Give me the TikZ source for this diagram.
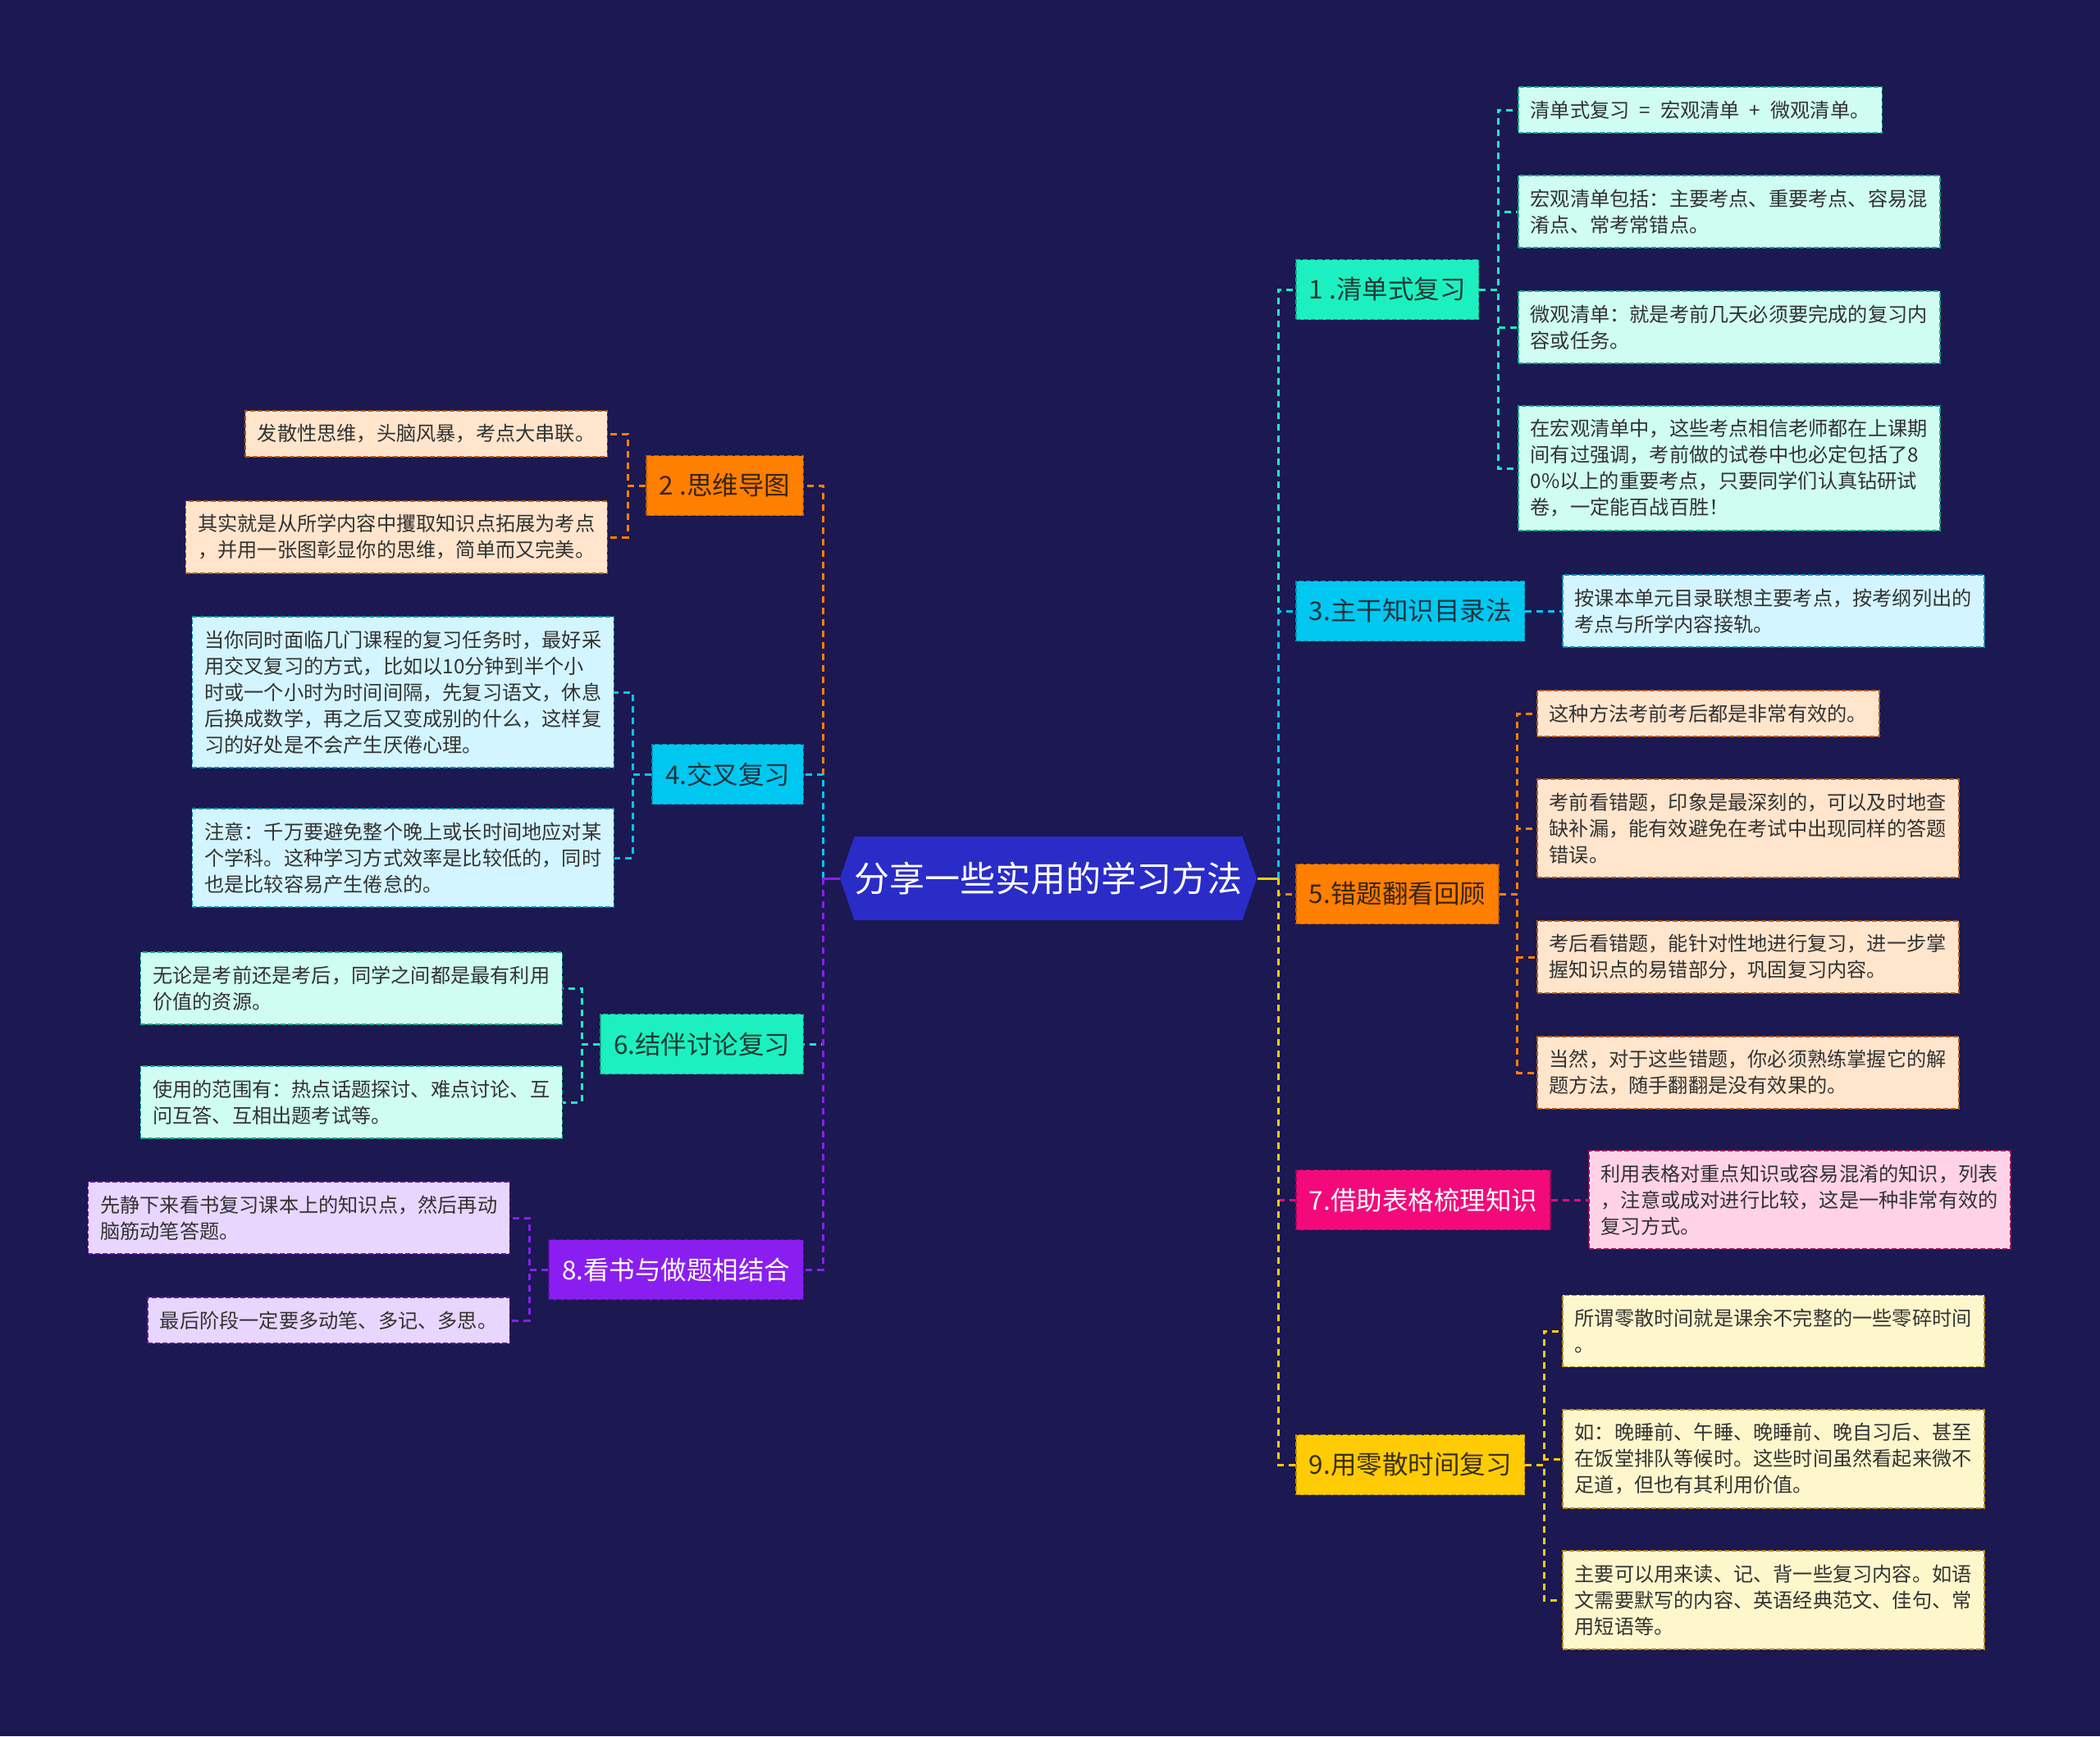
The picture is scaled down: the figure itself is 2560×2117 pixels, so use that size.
\documentclass[tikz,border=0pt]{standalone}
\usepackage{fontspec}
\setmainfont{Noto Sans CJK SC}
\usetikzlibrary{shapes.symbols}

\definecolor{bgnavy}{HTML}{1B1852}
\definecolor{rootblue}{HTML}{2A2CC8}
\definecolor{leaftext}{HTML}{333333}
\definecolor{mintM}{HTML}{1CF0C0}
\definecolor{mintL}{HTML}{CFFDF1}
\definecolor{mintD}{HTML}{14A886}
\definecolor{mintT}{HTML}{1F3A36}
\definecolor{cyanM}{HTML}{00C8F0}
\definecolor{cyanL}{HTML}{D3F5FF}
\definecolor{cyanD}{HTML}{0090B0}
\definecolor{cyanT}{HTML}{1D3440}
\definecolor{orangeM}{HTML}{FF7F00}
\definecolor{orangeL}{HTML}{FFE5CC}
\definecolor{orangeD}{HTML}{B85A00}
\definecolor{orangeT}{HTML}{3A2410}
\definecolor{pinkM}{HTML}{F3097A}
\definecolor{pinkL}{HTML}{FFD2E8}
\definecolor{pinkD}{HTML}{A80552}
\definecolor{pinkT}{HTML}{FFFFFF}
\definecolor{yellowM}{HTML}{FFCB05}
\definecolor{yellowL}{HTML}{FFF7CC}
\definecolor{yellowD}{HTML}{B89000}
\definecolor{yellowT}{HTML}{3A3010}
\definecolor{purpleM}{HTML}{8A1EF0}
\definecolor{purpleL}{HTML}{E8D6FF}
\definecolor{purpleD}{HTML}{5E10A8}
\definecolor{purpleT}{HTML}{FFFFFF}

\begin{document}
\begin{tikzpicture}
  [x=0.5pt,y=-0.5pt,
   every node/.style={inner sep=0pt},
   topic/.style={rectangle, fill=#1M, draw=#1D, text=#1T, line width=0.75pt,
     dash pattern=on 3pt off 1.5pt, minimum height=36.5pt, inner xsep=8pt,
     font=\fontsize{15.75pt}{18pt}\selectfont},
   leaf/.style={rectangle, fill=#1L, draw=#1D, text=leaftext, line width=0.75pt,
     dash pattern=on 3pt off 1.5pt, align=left, inner xsep=7.5pt, inner ysep=8.3pt,
     font=\fontsize{12.1pt}{16pt}\selectfont},
   link/.style={draw=#1M, line width=1.5pt, dash pattern=on 4pt off 3pt},
   elbow/.style={to path={-- ++(#1,0) |- (\tikztotarget)}},
   fork/.style={to path={|- (\tikztotarget)}}]

  \fill[bgnavy] (0,0) rectangle (2560,2117);
  \useasboundingbox (0,0) rectangle (2560,2117);

  % centre
  \node[shape=signal, signal to=west and east, signal pointer angle=142,
    fill=rootblue, text=white, minimum width=234pt, minimum height=51pt,
    font=\fontsize{21.5pt}{24pt}\selectfont] (root) at (1278,1071) {分享一些实用的学习方法};
  \coordinate (rtrunk) at (1558,1071);
  \coordinate (ltrunk) at (1003,1071);

  % right topics
  \node[topic=mint, anchor=west] (t1) at (1579,353) {1 .清单式复习};
  \node[topic=cyan, anchor=west] (t3) at (1579,745) {3.主干知识目录法};
  \node[topic=orange, anchor=west] (t5) at (1579,1090) {5.错题翻看回顾};
  \node[topic=pink, anchor=west] (t7) at (1579,1463) {7.借助表格梳理知识};
  \node[topic=yellow, anchor=west] (t9) at (1579,1786) {9.用零散时间复习};

  % left topics
  \node[topic=orange, anchor=east] (t2) at (980,592) {2 .思维导图};
  \node[topic=cyan, anchor=east] (t4) at (980,944) {4.交叉复习};
  \node[topic=mint, anchor=east] (t6) at (980,1273) {6.结伴讨论复习};
  \node[topic=purple, anchor=east] (t8) at (980,1548) {8.看书与做题相结合};

  % right leaves
  \node[leaf=mint, anchor=west] (l1a) at (1850,134) {清单式复习\hspace{6pt}=\hspace{6pt}宏观清单\hspace{6pt}+\hspace{6pt}微观清单。};
  \node[leaf=mint, anchor=west] (l1b) at (1850,258) {宏观清单包括：主要考点、重要考点、容易混\\淆点、常考常错点。};
  \node[leaf=mint, anchor=west] (l1c) at (1850,399) {微观清单：就是考前几天必须要完成的复习内\\容或任务。};
  \node[leaf=mint, anchor=west] (l1d) at (1850,571) {在宏观清单中，这些考点相信老师都在上课期\\间有过强调，考前做的试卷中也必定包括了8\\0\%以上的重要考点，只要同学们认真钻研试\\卷，一定能百战百胜！};
  \node[leaf=cyan, anchor=west] (l3a) at (1904,745) {按课本单元目录联想主要考点，按考纲列出的\\考点与所学内容接轨。};
  \node[leaf=orange, anchor=west] (l5a) at (1873,870) {这种方法考前考后都是非常有效的。};
  \node[leaf=orange, anchor=west] (l5b) at (1873,1010) {考前看错题，印象是最深刻的，可以及时地查\\缺补漏，能有效避免在考试中出现同样的答题\\错误。};
  \node[leaf=orange, anchor=west] (l5c) at (1873,1167) {考后看错题，能针对性地进行复习，进一步掌\\握知识点的易错部分，巩固复习内容。};
  \node[leaf=orange, anchor=west] (l5d) at (1873,1308) {当然，对于这些错题，你必须熟练掌握它的解\\题方法，随手翻翻是没有效果的。};
  \node[leaf=pink, anchor=west] (l7a) at (1936,1463) {利用表格对重点知识或容易混淆的知识，列表\\，注意或成对进行比较，这是一种非常有效的\\复习方式。};
  \node[leaf=yellow, anchor=west] (l9a) at (1904,1623) {所谓零散时间就是课余不完整的一些零碎时间\\。};
  \node[leaf=yellow, anchor=west] (l9b) at (1904,1779) {如：晚睡前、午睡、晚睡前、晚自习后、甚至\\在饭堂排队等候时。这些时间虽然看起来微不\\足道，但也有其利用价值。};
  \node[leaf=yellow, anchor=west] (l9c) at (1904,1951) {主要可以用来读、记、背一些复习内容。如语\\文需要默写的内容、英语经典范文、佳句、常\\用短语等。};

  % left leaves
  \node[leaf=orange, anchor=east] (l2a) at (741,529) {发散性思维，头脑风暴，考点大串联。};
  \node[leaf=orange, anchor=east] (l2b) at (741,655) {其实就是从所学内容中攫取知识点拓展为考点\\，并用一张图彰显你的思维，简单而又完美。};
  \node[leaf=cyan, anchor=east] (l4a) at (749,844) {当你同时面临几门课程的复习任务时，最好采\\用交叉复习的方式，比如以10分钟到半个小\\时或一个小时为时间间隔，先复习语文，休息\\后换成数学，再之后又变成别的什么，这样复\\习的好处是不会产生厌倦心理。};
  \node[leaf=cyan, anchor=east] (l4b) at (749,1046) {注意：千万要避免整个晚上或长时间地应对某\\个学科。这种学习方式效率是比较低的，同时\\也是比较容易产生倦怠的。};
  \node[leaf=mint, anchor=east] (l6a) at (686,1205) {无论是考前还是考后，同学之间都是最有利用\\价值的资源。};
  \node[leaf=mint, anchor=east] (l6b) at (686,1344) {使用的范围有：热点话题探讨、难点讨论、互\\问互答、互相出题考试等。};
  \node[leaf=purple, anchor=east] (l8a) at (622,1485) {先静下来看书复习课本上的知识点，然后再动\\脑筋动笔答题。};
  \node[leaf=purple, anchor=east] (l8b) at (622,1610) {最后阶段一定要多动笔、多记、多思。};

  % root to topics
  \path[link=mint] (rtrunk) edge[fork] (t1.west);
  \path[link=cyan] (rtrunk) edge[fork] (t3.west);
  \path[link=orange] (rtrunk) edge[fork] (t5.west);
  \path[link=pink] (rtrunk) edge[fork] (t7.west);
  \path[link=yellow] (rtrunk) edge[fork] (t9.west);
  \path[link=orange] (ltrunk) edge[fork] (t2.east);
  \path[link=cyan] (ltrunk) edge[fork] (t4.east);
  \path[link=mint] (ltrunk) edge[fork] (t6.east);
  \path[link=purple] (ltrunk) edge[fork] (t8.east);
  \draw[yellowM, line width=1.5pt] (root.east) -- (rtrunk);
  \draw[purpleM, line width=1.5pt] (root.west) -- (ltrunk);

  % topics to leaves
  \path[link=mint] (t1.east) edge[elbow=23] (l1a.west) edge[elbow=23] (l1b.west)
    edge[elbow=23] (l1c.west) edge[elbow=23] (l1d.west);
  \path[link=cyan] (t3.east) edge (l3a.west);
  \path[link=orange] (t5.east) edge[elbow=22] (l5a.west) edge[elbow=22] (l5b.west)
    edge[elbow=22] (l5c.west) edge[elbow=22] (l5d.west);
  \path[link=pink] (t7.east) edge (l7a.west);
  \path[link=yellow] (t9.east) edge[elbow=23] (l9a.west) edge[elbow=23] (l9b.west)
    edge[elbow=23] (l9c.west);
  \path[link=orange] (t2.west) edge[elbow=-22] (l2a.east) edge[elbow=-22] (l2b.east);
  \path[link=cyan] (t4.west) edge[elbow=-23] (l4a.east) edge[elbow=-23] (l4b.east);
  \path[link=mint] (t6.west) edge[elbow=-22] (l6a.east) edge[elbow=-22] (l6b.east);
  \path[link=purple] (t8.west) edge[elbow=-23] (l8a.east) edge[elbow=-23] (l8b.east);
\end{tikzpicture}
\end{document}
